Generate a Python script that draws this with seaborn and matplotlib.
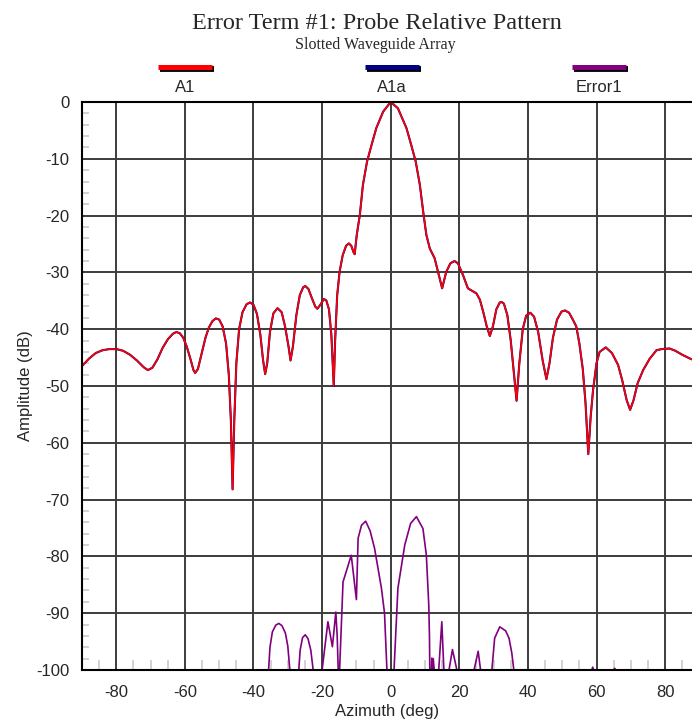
import numpy as np
import pandas as pd
import matplotlib
matplotlib.use("Agg")
import matplotlib.pyplot as plt
from matplotlib.lines import Line2D
from matplotlib.ticker import MultipleLocator
import seaborn as sns

# ---- measured pattern: probe-relative amplitude vs azimuth ----
a1_az = [-90, -88, -86, -84, -82, -80, -78, -76, -74, -72, -70.8, -69.5, -68, -66.5, -65,
         -63.5, -62.5, -61.5, -60.5, -59.5, -58.5, -57.5, -57, -56.2, -55.2, -54, -53, -52,
         -51, -50, -49, -48, -47.2, -46.6, -46.1, -45.6, -45, -44.2, -43.2, -42, -41, -40,
         -39, -38, -37.2, -36.6, -36, -35.2, -34.2, -33, -31.8, -30.8, -29.8, -29.2, -28.5,
         -27.5, -26.5, -25.5, -24.9, -24, -23, -22, -21.4, -20.5, -19.5, -18.8, -18, -17.3,
         -16.9, -16.6, -16.2, -15.6, -14.9, -14, -13, -12.2, -11.5, -10.8, -10.5, -9.9,
         -9.0, -8.1, -6.9, -5.6, -4.2, -2.2, 0, 2.1, 4.6, 6.0, 7.3, 8.5, 9.6, 10.4, 11.4,
         12.8, 13.8, 15.0, 16.2, 17.4, 18.6, 19.6, 21.1, 22.5, 23.9, 25.0, 26, 27, 28, 28.9,
         29.8, 30.8, 31.8, 32.3, 33, 34, 35, 35.8, 36.7, 37.5, 38.5, 39.5, 40.7, 41.8, 43,
         44.3, 45.4, 46.3, 47.3, 48.5, 49.8, 50.8, 52, 53, 54.1, 55, 56, 56.8, 57.6, 58.3,
         59.0, 60.0, 60.9, 62.7, 64.5, 66.3, 67.5, 68.8, 69.8, 70.8, 72, 73.6, 75.5, 77.5,
         79, 81.3, 83, 85, 87.7]
a1_db = [-46.5, -45.2, -44.2, -43.7, -43.5, -43.5, -43.8, -44.5, -45.5, -46.7, -47.2, -46.8,
         -45.3, -43.3, -41.8, -40.8, -40.5, -40.7, -41.5, -43.0, -45.0, -47.2, -47.7, -47.0,
         -44.5, -41.5, -39.7, -38.6, -38.1, -38.3, -39.5, -42.5, -48, -56, -68.2, -56, -46,
         -40, -37, -35.6, -35.3, -35.7, -37.3, -41, -45.5, -47.9, -46, -40.5, -37.2, -36.3,
         -37, -39.5, -43, -45.5, -43, -37.5, -34, -32.6, -32.4, -32.9, -34.5, -36.0, -36.4,
         -35.7, -34.7, -34.9, -36.5, -41, -46, -50, -42, -34, -29.9, -27, -25.3, -24.9,
         -25.3, -26.5, -26.8, -23.4, -19.9, -14.6, -10.5, -7.6, -4.6, -1.7, 0, -1.1, -4.6,
         -7.6, -10.5, -14.6, -19.9, -23.4, -25.8, -27.5, -29.9, -32.8, -29.9, -28.4, -28.0,
         -28.4, -30.5, -32.8, -33.3, -33.7, -34.8, -37, -39.5, -41.2, -39.5, -36.5, -35.3,
         -35.2, -35.5, -37.5, -42, -47, -52.6, -46, -40, -37.6, -37.1, -37.8, -40.5, -45.5,
         -48.8, -46, -41.5, -38.3, -36.9, -36.7, -37.1, -38.2, -39.5, -42.5, -47, -53, -62.0,
         -55.4, -50.7, -46.0, -44.0, -43.2, -44.2, -46.3, -49, -52.5, -54.2, -52.5, -49.5,
         -47.2, -45.2, -43.7, -43.5, -43.4, -43.8, -44.5, -45.3]
# A1a coincides with A1 over the whole scan
a1a_db = list(a1_db)

# ---- Error1 residual lobes (only the parts above the -100 dB floor) ----
err_lobe = [1]*9 + [2]*7 + [3]*6 + [4]*12 + [5]*10 + [6]*3 + [7]*3 + [8]*3 + [9]*3 + [10]*7 + [11]*3 + [12]*3
err_az = [-35.6, -35.2, -34.5, -33.5, -32.6, -31.7, -30.7, -30.0, -29.4,
          -26.8, -26.4, -25.7, -24.9, -24.1, -23.3, -22.6,
          -20.0, -18.3, -17.0, -16.0, -15.6, -15.3,
          -14.9, -13.9, -11.5, -10.0, -9.5, -8.5, -7.3, -6.0, -4.7, -2.7, -1.8, -1.1,
          0.97, 2.1, 4.1, 5.8, 7.5, 9.4, 10.4, 11.1, 11.3, 11.4,
          11.8, 12.0, 12.3,
          12.3, 12.4, 12.7,
          14.0, 14.9, 15.5,
          17.0, 18.0, 19.3,
          29.5, 30.3, 31.8, 33.5, 34.5, 35.3, 35.9,
          58.6, 58.9, 59.2,
          65.0, 65.3, 65.6]
err_db = [-100, -96, -93.3, -92.1, -91.8, -92.2, -93.5, -95.8, -100,
          -100, -96.5, -94.3, -93.8, -94.5, -96.5, -100,
          -100, -91.5, -95.9, -89.8, -94, -100,
          -100, -84.5, -79.8, -87.6, -76.8, -74.5, -73.8, -75.5, -78.6, -85.6, -90, -100,
          -100, -85.6, -78, -74.2, -73.0, -75.1, -79.8, -88.6, -94, -100,
          -100, -97.9, -100,
          -100, -98.0, -100,
          -100, -91.5, -100,
          -100, -96.4, -100,
          -100, -94.4, -92.4, -93.1, -94.4, -97, -100,
          -100, -99.5, -100,
          -100, -99.7, -100]
# lobe near +25.5 deg
lobe_g_az = [24.3, 25.5, 26.2]
lobe_g_db = [-100, -96.7, -100]

series_names = ["A1", "A1a", "Error1"]
series_colors = ["#ff0000", "#000080", "#800080"]

x_ticks = [-80, -60, -40, -20, 0, 20, 40, 60, 80]
y_ticks = [0, -10, -20, -30, -40, -50, -60, -70, -80, -90, -100]

# ---- figure ----
sns.set_style("white")
plt.rcParams["font.family"] = ["Liberation Sans", "DejaVu Sans"]
plt.rcParams["axes.unicode_minus"] = False

fig = plt.figure(figsize=(6.92, 7.25), dpi=100)
ax = fig.add_axes([82 / 692, 1 - 670 / 725, 610 / 692, 568 / 725])

a1_df = pd.DataFrame({"az": a1_az, "A1": a1_db, "A1a": a1a_db})
err_df = pd.DataFrame({"az": err_az + lobe_g_az,
                       "db": err_db + lobe_g_db,
                       "lobe": err_lobe + [13] * 3})

sns.lineplot(data=err_df, x="az", y="db", units="lobe", estimator=None, sort=False,
             color=series_colors[2], lw=1.2, ax=ax)
sns.lineplot(data=a1_df, x="az", y="A1a", estimator=None, sort=False,
             color=series_colors[1], lw=1.5, ax=ax)
sns.lineplot(data=a1_df, x="az", y="A1", estimator=None, sort=False,
             color=series_colors[0], lw=1.2, ax=ax)

ax.set_xlim(-90, -90 + 610 / 3.43)
ax.set_ylim(-100, 0)
ax.set_xticks(x_ticks)
ax.set_yticks(y_ticks)
ax.xaxis.set_minor_locator(MultipleLocator(5))
ax.yaxis.set_minor_locator(MultipleLocator(2))
ax.grid(which="major", color="#3c3c3c", lw=1.4)
ax.set_axisbelow(True)

ax.tick_params(which="major", direction="out", length=7, width=1.4, color="black",
               labelsize=12, pad=2)
ax.tick_params(axis="x", which="major", pad=4)
ax.tick_params(axis="y", which="minor", direction="in", length=5, width=1.3,
               color="#cfcfcf", left=True)
ax.tick_params(axis="x", which="minor", direction="in", length=7, width=1.3,
               color="#cfcfcf", bottom=True)

for side in ["left", "bottom", "top"]:
    ax.spines[side].set_visible(True)
    ax.spines[side].set_color("black")
    ax.spines[side].set_linewidth(1.5)
ax.spines["right"].set_visible(False)

ax.set_xlabel("Azimuth (deg)", fontsize=12, labelpad=3)
ax.set_ylabel("Amplitude (dB)", fontsize=12, labelpad=2)

# ---- titles ----
fig.text(377 / 692, 1 - 29 / 725, "Error Term #1: Probe Relative Pattern",
         family=["Liberation Serif", "DejaVu Serif"], fontsize=17.5,
         ha="center", va="baseline")
fig.text(375 / 692, 1 - 49 / 725, "Slotted Waveguide Array",
         family=["Liberation Serif", "DejaVu Serif"], fontsize=11.5,
         ha="center", va="baseline")

# ---- legend: swatch above each series name ----
legend_centers = [185, 392, 599]
for cx, name, col in zip(legend_centers, series_names, series_colors):
    x0, x1 = (cx - 27) / 692, (cx + 27) / 692
    y = 1 - 67 / 725
    fig.add_artist(Line2D([x0 + 1.5 / 692, x1 + 1.5 / 692], [y - 1.5 / 725] * 2,
                          color="black", lw=4.2, solid_capstyle="butt"))
    fig.add_artist(Line2D([x0, x1], [y] * 2, color=col, lw=3.6,
                          solid_capstyle="butt"))
    fig.text(cx / 692, 1 - 88 / 725, name, fontsize=12, ha="center", va="center")

fig.savefig("out.png", dpi=100)
